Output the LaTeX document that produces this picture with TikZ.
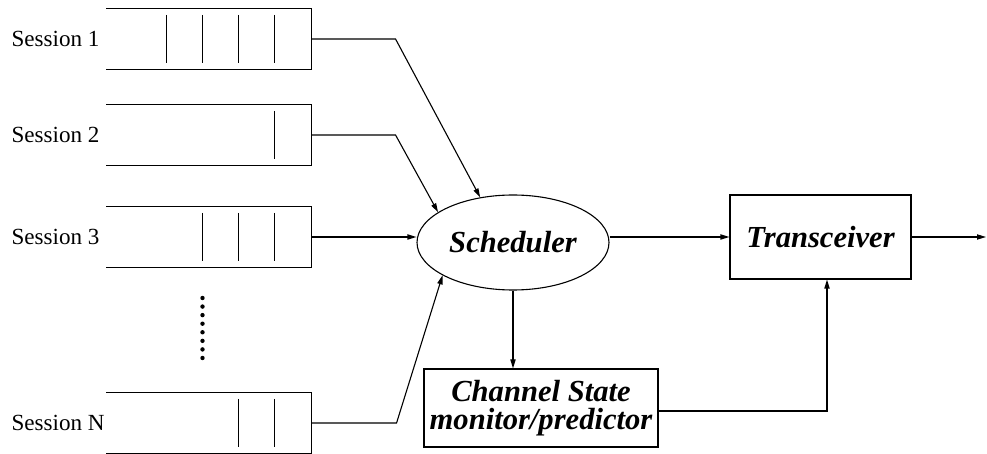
\documentclass[tikz,border=0pt]{standalone}
\usepackage{fontspec}
\setmainfont{Liberation Serif}
\usetikzlibrary{positioning, arrows.meta, shapes.geometric}

\begin{document}
\begin{tikzpicture}[x=0.5pt, y=-0.5pt, line width=0.55pt,
    queue/.style={minimum width=102pt, minimum height=30pt, inner sep=0pt},
    sesslbl/.style={font=\fontsize{11.55}{13}\selectfont, inner sep=0pt, anchor=west},
    blockbox/.style={draw, font=\fontsize{15.3}{14.2}\selectfont\bfseries\itshape,
      inner sep=0pt, align=center},
    flow/.style={-{Triangle[length=4.5pt, width=2.6pt]}},
  ]
  \useasboundingbox (0,0) rectangle (987,454);
  % session queues (open on the left) with their packets
  \foreach \n/\y/\pk in {1/39/{166,202,238,274}, 2/135/{274}, 3/237/{202,238,274}, N/423/{238,274}}{
    \node[queue] (q\n) at (209,\y) {};
    \draw (q\n.north west) -- (q\n.north east) -- (q\n.south east) -- (q\n.south west);
    \foreach \x in \pk
      \draw (\x+0.5,\y-24) -- (\x+0.5,\y+24);
    \node[sesslbl] (s\n) at (11,\y) {Session \n};
  }
  % vertical ellipsis between queue 3 and queue N
  \foreach \k in {0,...,7}
    \fill (202.5,298+\k*8.57) circle (1.1pt);
  % blocks
  \node[blockbox, ellipse, minimum width=96pt, minimum height=47.5pt] (sched) at (513,242.5) {Scheduler};
  \node[blockbox, minimum width=90.5pt, minimum height=42pt] (trans) at (820.5,237) {Transceiver};
  \node[blockbox, minimum width=117pt, minimum height=39pt] (chan) at (541,408) {Channel State\\monitor/predictor};
  \coordinate (out) at (986,237);
  % connectors
  \draw[flow] (q1.east) -- ++(84,0) -- (sched.126);
  \draw[flow] (q2.east) -- ++(84,0) -- (sched.158);
  \draw[flow] (q3.east) -- (q3.east -| sched.west);
  \draw[flow] (qN.east) -- ++(85,0) -- (sched.205);
  \draw[flow] (trans.west -| sched.east) -- (trans.west);
  \draw[flow] (sched.south) -- (sched.south |- chan.north);
  \draw[flow] ([yshift=-1.5pt]chan.east) -| ([xshift=3.25pt]trans.south);
  \draw[flow] (trans.east) -- (out);
\end{tikzpicture}
\end{document}
